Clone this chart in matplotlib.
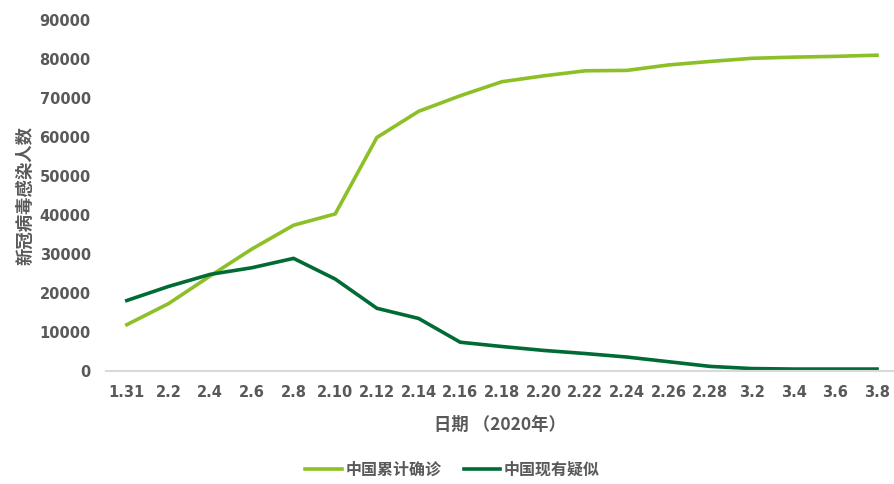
import matplotlib
matplotlib.use("Agg")
import matplotlib.pyplot as plt

plt.rcParams['font.family'] = ['Noto Sans CJK SC', 'DejaVu Sans']

dates = ["1.31", "2.2", "2.4", "2.6", "2.8", "2.10", "2.12", "2.14", "2.16", "2.18",
         "2.20", "2.22", "2.24", "2.26", "2.28", "3.2", "3.4", "3.6", "3.8"]
confirmed = [11800, 17200, 24300, 31200, 37300, 40200, 59800, 66500, 70500, 74100,
             75600, 76900, 77000, 78400, 79300, 80100, 80400, 80600, 80900]
suspected = [18000, 21600, 24700, 26400, 28800, 23500, 16000, 13400, 7300, 6200,
             5200, 4400, 3500, 2300, 1100, 550, 420, 420, 420]
series_names = ["中国累计确诊", "中国现有疑似"]
colors = ["#8CC026", "#006B35"]

text_color = "#595959"

fig = plt.figure(figsize=(8.94, 4.84), dpi=100)
ax = fig.add_axes([106 / 894, 113.3 / 484, (894 - 106) / 894, (370.7 - 19.7) / 484])

x = list(range(len(dates)))
ax.plot(x, confirmed, color=colors[0], lw=2.6, solid_joinstyle="miter", label=series_names[0])
ax.plot(x, suspected, color=colors[1], lw=2.6, solid_joinstyle="miter", label=series_names[1])

ax.set_xlim(-0.5, 18 + 17 / 41.67)
ax.set_ylim(0, 90000)
ax.set_yticks(range(0, 90001, 10000))
ax.set_yticklabels([str(v) for v in range(0, 90001, 10000)])
ax.set_xticks(x)
ax.set_xticklabels(dates)

for lab in ax.get_xticklabels() + ax.get_yticklabels():
    lab.set_family(['DejaVu Sans'])
    lab.set_fontweight('bold')
    lab.set_fontsize(10.5)
    lab.set_color(text_color)

ax.tick_params(axis='y', length=0, pad=11)
ax.tick_params(axis='x', length=0, pad=10)

for side in ("left", "right", "top"):
    ax.spines[side].set_visible(False)
ax.spines["bottom"].set_color("#d9d9d9")
ax.spines["bottom"].set_linewidth(1.5)

ax.set_ylabel("新冠病毒感染人数", fontsize=12.5, fontweight='bold', color=text_color, labelpad=4)
ax.set_xlabel("日期 （2020年）", fontsize=12.5, fontweight='bold', color=text_color, labelpad=12)

leg = fig.legend(loc="center", bbox_to_anchor=(0.506, 0.03), ncol=2, frameon=False,
                 handlelength=2.3, columnspacing=1.4, handletextpad=0.2,
                 prop={'size': 11.5, 'weight': 'bold'})
for t in leg.get_texts():
    t.set_color(text_color)

fig.savefig("out.png", dpi=100)
